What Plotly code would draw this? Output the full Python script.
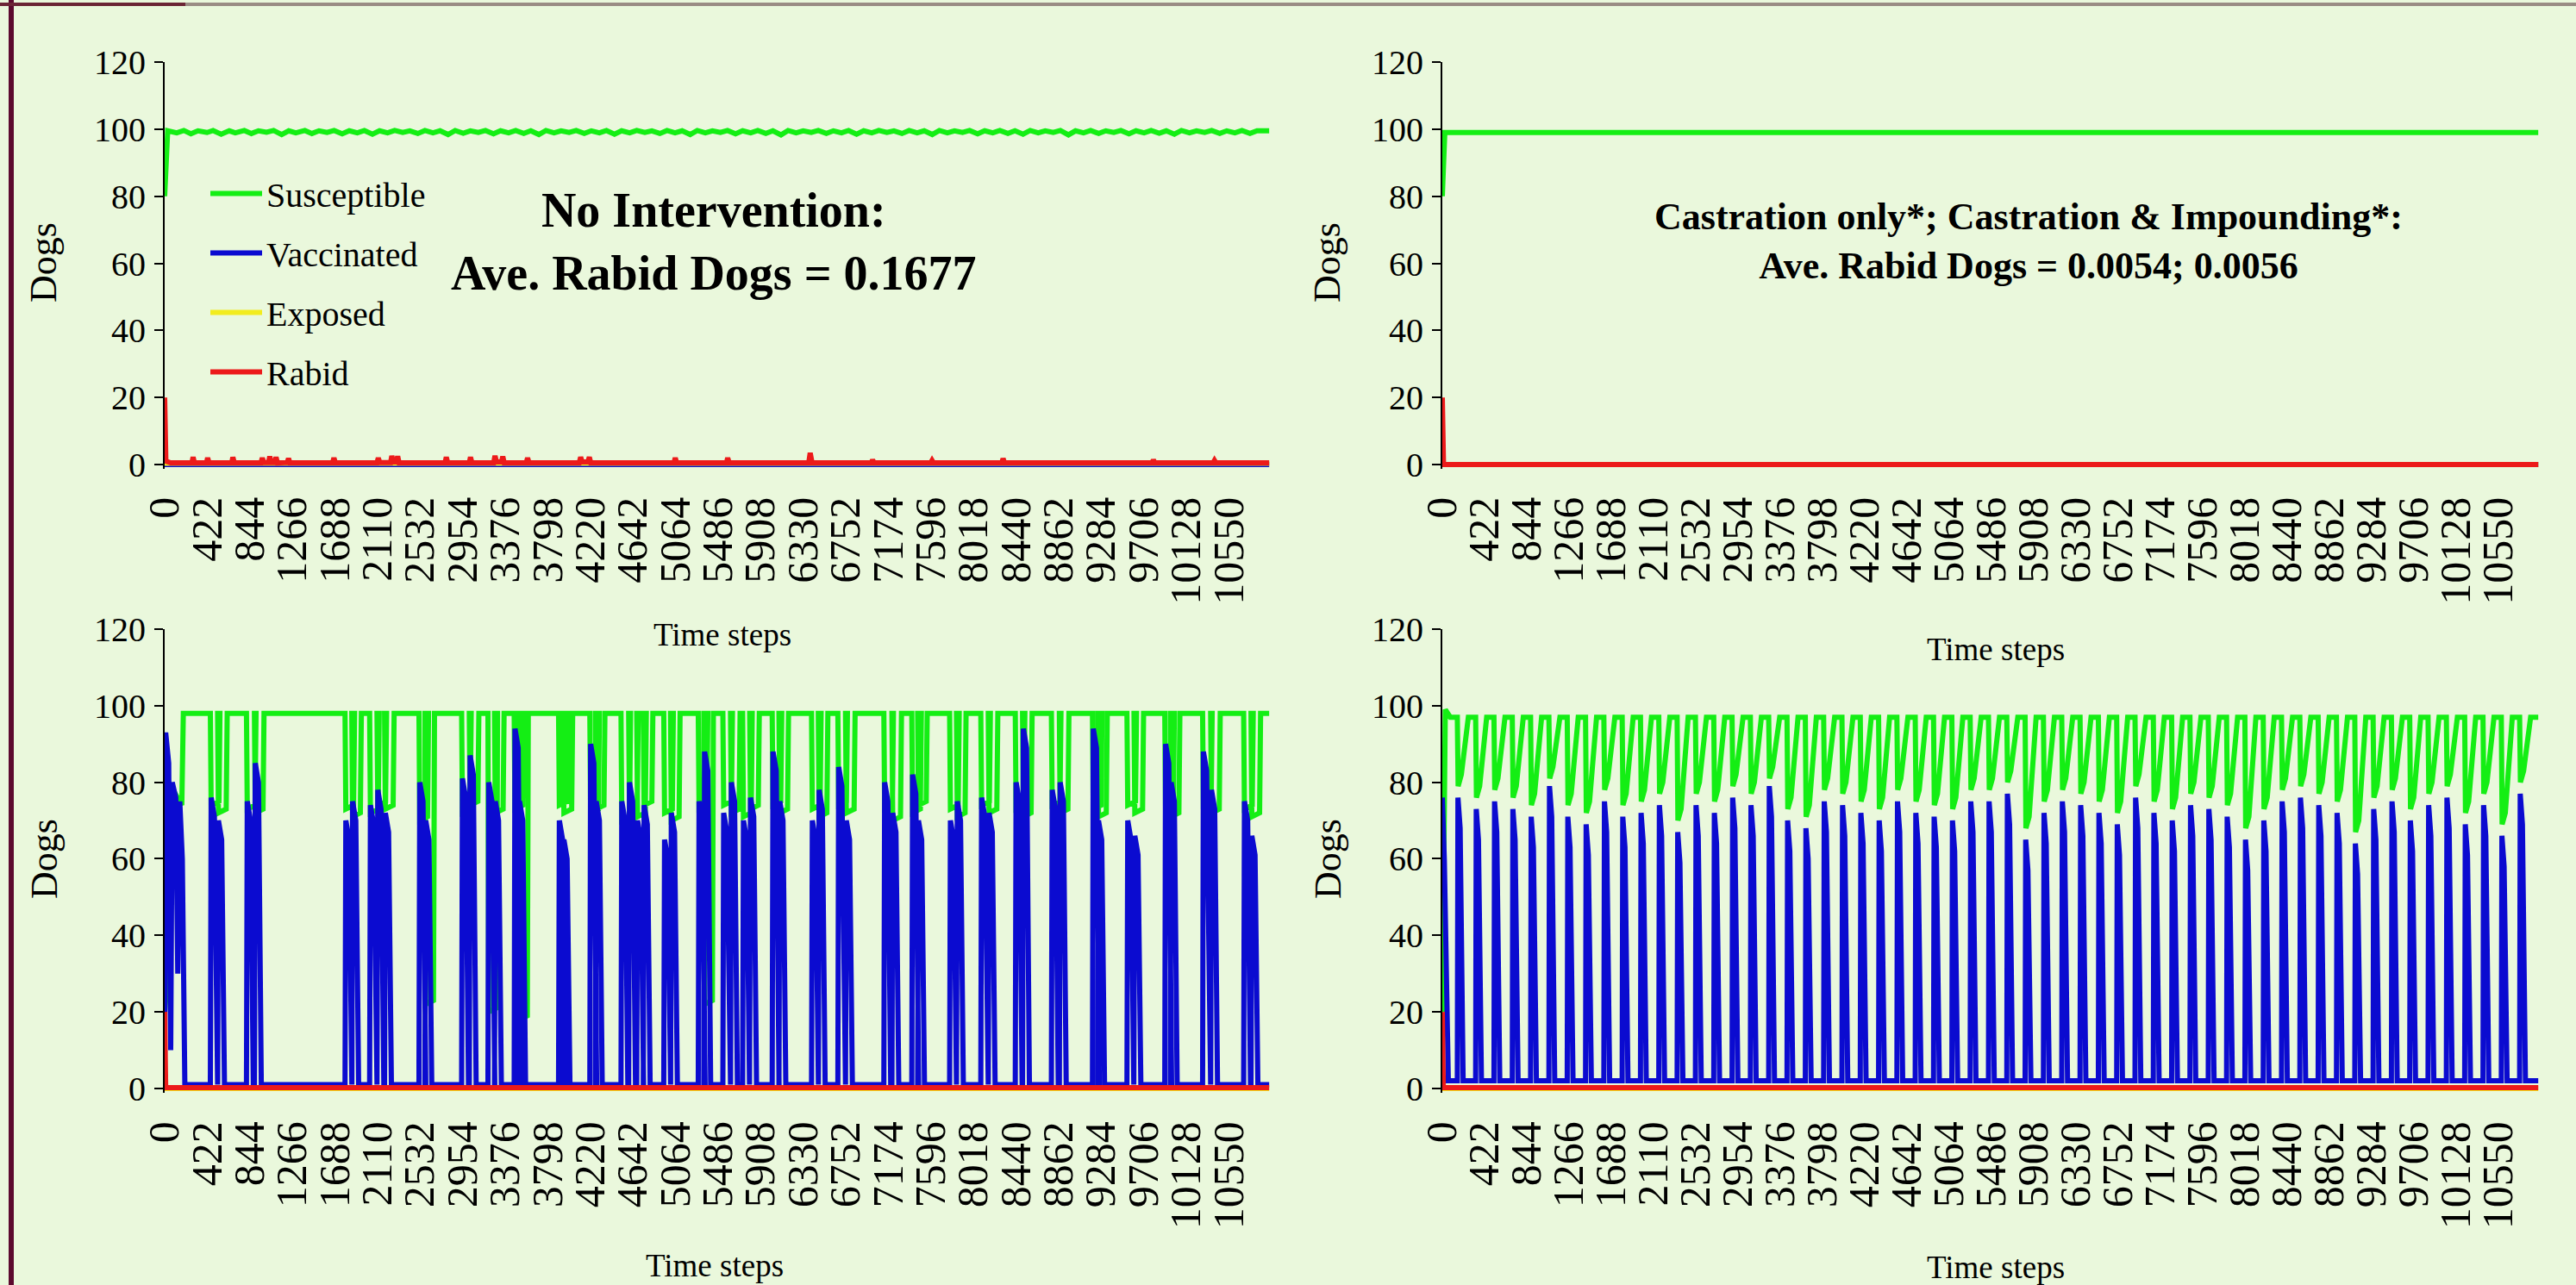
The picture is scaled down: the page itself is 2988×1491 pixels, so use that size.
import plotly.graph_objects as go

W, H = 2988, 1491
T_END = 10950
X_MAX = 11000

SERIES = ["Susceptible", "Vaccinated", "Exposed", "Rabid"]
COLORS = ["#14EE14", "#0B0BD0", "#F2EC1E", "#EC1A1A"]

X_TICKS = [0, 422, 844, 1266, 1688, 2110, 2532, 2954, 3376, 3798, 4220, 4642, 5064,
           5486, 5908, 6330, 6752, 7174, 7596, 8018, 8440, 8862, 9284, 9706, 10128, 10550]
Y_TICKS = [0, 20, 40, 60, 80, 100, 120]

# ---------------- Top-left: No intervention (time, dogs) ----------------
TL_S = [(0, 80), (30, 99.5), (120, 98.9), (190, 99.6), (260, 98.6), (330, 99.5), (420, 99.0),
        (480, 99.6), (560, 98.5), (640, 99.5), (700, 98.9), (790, 99.6), (860, 98.7), (930, 99.5),
        (1010, 99.1), (1080, 99.6), (1160, 98.4), (1230, 99.5), (1300, 98.9), (1390, 99.6),
        (1460, 98.7), (1530, 99.5), (1610, 99.0), (1680, 99.6), (1760, 98.6), (1830, 99.5),
        (1910, 98.9), (1980, 99.6), (2060, 98.5), (2130, 99.5), (2210, 98.9), (2280, 99.6),
        (2360, 99.0), (2430, 99.5), (2510, 98.7), (2580, 99.6), (2660, 98.9), (2730, 99.5),
        (2810, 98.4), (2880, 99.6), (2960, 98.8), (3030, 99.5), (3110, 99.0), (3180, 99.6),
        (3260, 98.6), (3330, 99.5), (3410, 98.9), (3480, 99.6), (3560, 98.7), (3630, 99.5),
        (3710, 98.4), (3780, 99.6), (3860, 98.9), (3930, 99.5), (4010, 99.0), (4080, 99.6),
        (4160, 98.7), (4230, 99.5), (4310, 98.9), (4380, 99.6), (4460, 98.5), (4530, 99.5),
        (4610, 98.9), (4680, 99.6), (4760, 99.0), (4830, 99.5), (4910, 98.7), (4980, 99.6),
        (5060, 98.9), (5130, 99.5), (5210, 98.4), (5280, 99.6), (5360, 98.9), (5430, 99.5),
        (5510, 99.0), (5580, 99.6), (5660, 98.6), (5730, 99.5), (5810, 98.9), (5880, 99.6),
        (5960, 98.7), (6030, 99.5), (6110, 98.3), (6180, 99.6), (6260, 98.9), (6330, 99.5),
        (6410, 99.0), (6480, 99.6), (6560, 98.7), (6630, 99.5), (6710, 98.9), (6780, 99.6),
        (6860, 98.5), (6930, 99.5), (7010, 98.9), (7080, 99.6), (7160, 99.0), (7230, 99.5),
        (7310, 98.7), (7380, 99.6), (7460, 98.9), (7530, 99.5), (7610, 98.4), (7680, 99.6),
        (7760, 98.9), (7830, 99.5), (7910, 99.0), (7980, 99.6), (8060, 98.6), (8130, 99.5),
        (8210, 98.9), (8280, 99.6), (8360, 98.7), (8430, 99.5), (8510, 98.5), (8580, 99.6),
        (8660, 98.9), (8730, 99.5), (8810, 99.0), (8880, 99.6), (8960, 98.3), (9030, 99.5),
        (9110, 98.9), (9180, 99.6), (9260, 98.7), (9330, 99.5), (9410, 99.0), (9480, 99.6),
        (9560, 98.6), (9630, 99.5), (9710, 98.9), (9780, 99.6), (9860, 98.8), (9930, 99.5),
        (10010, 98.5), (10080, 99.6), (10160, 98.9), (10230, 99.5), (10310, 99.0), (10380, 99.6),
        (10460, 98.7), (10530, 99.5), (10610, 98.9), (10680, 99.6), (10760, 98.7), (10830, 99.5),
        (10950, 99.5)]
TL_R = [(0, 20), (12, 1.0), (60, 0.5), (270, 0.5), (282, 2.2), (295, 0.5), (415, 0.5), (426, 2.0),
        (440, 0.5), (665, 0.5), (676, 2.2), (690, 0.5), (955, 0.5), (968, 2.0), (982, 0.6),
        (1030, 0.6), (1042, 2.4), (1056, 0.6), (1092, 0.6), (1104, 2.2), (1118, 0.5), (1215, 0.6),
        (1228, 1.8), (1242, 0.5), (1665, 0.5), (1678, 2.0), (1692, 0.5), (2105, 0.5), (2118, 2.0),
        (2132, 0.6), (2240, 0.6), (2252, 2.6), (2266, 0.8), (2298, 0.8), (2310, 2.5), (2324, 0.5),
        (2780, 0.5), (2792, 2.2), (2806, 0.5), (3020, 0.5), (3032, 2.2), (3046, 0.5), (3262, 0.5),
        (3275, 2.6), (3290, 0.8), (3340, 0.8), (3352, 2.4), (3366, 0.5), (3585, 0.5), (3598, 2.0),
        (3612, 0.5), (4110, 0.5), (4124, 2.2), (4138, 0.8), (4196, 0.8), (4210, 2.2), (4224, 0.5),
        (5050, 0.5), (5062, 2.0), (5076, 0.5), (5570, 0.5), (5582, 2.0), (5596, 0.5), (6385, 0.5),
        (6400, 3.5), (6418, 0.5), (7005, 0.5), (7018, 1.4), (7032, 0.5), (7595, 0.5), (7608, 1.2),
        (7622, 0.5), (8300, 0.5), (8312, 1.8), (8326, 0.5), (9790, 0.5), (9802, 1.4), (9816, 0.5),
        (10395, 0.5), (10408, 1.2), (10422, 0.5), (10950, 0.5)]
TL_V = [(0, 0), (T_END, 0)]
TL_E = [(0, 0.4), (T_END, 0.4)]

# ---------------- Top-right: castration only / castration & impounding ----------------
TR_S = [(0, 80), (25, 99), (T_END, 99)]
TR_V = [(0, 0), (T_END, 0)]
TR_E = [(0, 0), (T_END, 0)]
TR_R = [(0, 20), (12, 0), (T_END, 0)]

# ---------------- Bottom-right: regular vaccination pulses ----------------
BR_start = [150, 333, 516, 699, 882, 1065, 1248, 1431, 1614, 1797, 1980, 2163, 2346, 2529,
            2712, 2895, 3078, 3261, 3444, 3627, 3810, 3993, 4176, 4359, 4542, 4725, 4908,
            5091, 5274, 5457, 5640, 5823, 6006, 6189, 6372, 6555, 6738, 6921, 7104, 7287,
            7470, 7653, 7836, 8019, 8202, 8385, 8568, 8751, 8934, 9117, 9300, 9483, 9666,
            9849, 10032, 10215, 10398, 10581, 10764]
BR_V_peak = [76, 73, 75, 73, 71, 79, 71, 69, 75, 71, 72, 74, 67, 74, 72, 76, 74, 79, 70, 68,
             75, 74, 72, 70, 75, 72, 71, 70, 75, 75, 77, 65, 72, 75, 74, 72, 69, 76, 72, 70,
             74, 73, 71, 65, 70, 75, 76, 74, 72, 64, 73, 75, 70, 74, 76, 69, 74, 66, 77]
BR_S_low = [79, 76, 78, 76, 74, 81, 74, 72, 78, 74, 75, 77, 70, 77, 75, 79, 77, 81, 73, 71,
            78, 77, 75, 73, 78, 75, 74, 73, 78, 78, 80, 68, 75, 78, 77, 75, 72, 79, 75, 73,
            77, 76, 74, 68, 73, 78, 79, 77, 75, 67, 76, 78, 73, 77, 79, 72, 77, 69, 80]
BR_S_lead = [(0, 20), (30, 99), (80, 97)]
BR_V_lead = [(0, 76), (20, 60), (60, 2)]
BR_R = [(0, 20), (10, 0.2), (T_END, 0.2)]
BR_E = [(0, 0), (T_END, 0)]
# pulse outline: (steps after onset, offset from pulse level or None = baseline)
BR_V_SHAPE = [(0, None), (6, 0), (28, -8), (58, None)]
BR_S_SHAPE = [(0, None), (8, 0), (40, 3), (110, None)]

# ---------------- Bottom-left: irregular vaccination pulses ----------------
BL_start = [453, 525, 811, 890, 1788, 1855, 2032, 2105, 2180, 2521, 2580, 2944, 3020, 3205,
            3270, 3465, 3510, 3905, 3950, 4215, 4270, 4524, 4600, 4680, 4745, 4948, 5015,
            5290, 5345, 5534, 5610, 5730, 5800, 6023, 6090, 6413, 6480, 6674, 6750, 7130,
            7210, 7407, 7465, 7782, 7850, 8091, 8165, 8433, 8505, 8791, 8870, 9198, 9250,
            9540, 9610, 9915, 9970, 10290, 10370, 10697, 10770]
BL_V_peak = [76, 70, 75, 85, 70, 75, 74, 78, 72, 80, 70, 81, 87, 80, 75, 94, 75, 70, 65, 90,
             75, 75, 80, 70, 74, 65, 72, 75, 88, 72, 80, 70, 76, 88, 75, 70, 78, 84, 70, 80,
             72, 82, 70, 70, 75, 76, 72, 80, 94, 78, 80, 94, 70, 70, 66, 90, 80, 88, 78, 75, 66]
BL_S_low = [74, 72, 73, 72, 73, 71, 72, 74, 73, 70, 22, 72, 74, 20, 72, 73, 18, 74, 72, 72,
            73, 70, 73, 71, 74, 72, 70, 73, 22, 74, 72, 71, 73, 74, 72, 73, 71, 74, 72, 73,
            70, 72, 74, 73, 71, 74, 72, 73, 71, 74, 72, 73, 71, 74, 72, 73, 71, 74, 72, 73, 71]
BL_S_lead = [(0, 20), (25, 28), (40, 80), (170, 74), (185, 98)]
BL_V_lead = [(0, 5), (10, 93), (40, 85), (60, 10), (75, 80), (110, 76), (130, 30), (150, 75),
             (175, 60), (200, 1)]
BL_R = [(0, 20), (10, 0.2), (T_END, 0.2)]
BL_E = [(0, 0), (T_END, 0)]
BL_V_SHAPE = [(0, None), (8, 0), (40, -5), (68, None)]
BL_S_SHAPE = [(0, None), (8, 0), (85, 1), (95, None)]


def pts(pairs):
    return [p[0] for p in pairs], [p[1] for p in pairs]


def pulses(lead, starts, levels, base, shape):
    """Polyline through the read pulse events (onset time, level) on a baseline."""
    t, y = pts(lead)
    for s, v in zip(starts, levels):
        for off, d in shape:
            t.append(s + off)
            y.append(base if d is None else v + d)
    t.append(T_END)
    y.append(base)
    return t, y


PANELS = [
    ("x", "y", [pts(TL_S), pts(TL_V), pts(TL_E), pts(TL_R)], True),
    ("x2", "y2", [pts(TR_S), pts(TR_V), pts(TR_E), pts(TR_R)], False),
    ("x3", "y3", [pulses(BL_S_lead, BL_start, BL_S_low, 98, BL_S_SHAPE),
                  pulses(BL_V_lead, BL_start, BL_V_peak, 1, BL_V_SHAPE),
                  pts(BL_E), pts(BL_R)], False),
    ("x4", "y4", [pulses(BR_S_lead, BR_start, BR_S_low, 97, BR_S_SHAPE),
                  pulses(BR_V_lead, BR_start, BR_V_peak, 2, BR_V_SHAPE),
                  pts(BR_E), pts(BR_R)], False),
]

FONT = "Liberation Serif, Times New Roman, serif"
BG = "#EAF8DC"

fig = go.Figure()
for xa, ya, series, show in PANELS:
    for (t, v), name, col in zip(series, SERIES, COLORS):
        fig.add_trace(go.Scatter(
            x=t, y=v, mode="lines", name=name, xaxis=xa, yaxis=ya,
            line=dict(color=col, width=6), showlegend=show, legendgroup=name,
            hoverinfo="skip"))

xdom_l = [191 / W, 1478 / W]
xdom_r = [1673 / W, 2950 / W]
ydom_t = [1 - 543.7 / H, 1 - 72 / H]
ydom_b = [1 - 1268.3 / H, 1 - 730 / H]

xcommon = dict(range=[0, X_MAX], tickmode="array", tickvals=X_TICKS,
               ticktext=[str(v) for v in X_TICKS], tickangle=-90, showline=False,
               showgrid=False, zeroline=False, ticks="", ticklabelstandoff=22, automargin=False,
               tickfont=dict(family=FONT, size=50, color="black"))
ycommon = dict(range=[-1.2, 120], tickmode="array", tickvals=Y_TICKS, showline=True,
               linecolor="black", linewidth=2, ticks="outside", ticklen=10, tickwidth=2,
               tickcolor="black", showgrid=False, zeroline=False, ticklabelstandoff=2,
               automargin=False, tickfont=dict(family=FONT, size=40, color="black"))

fig.update_layout(
    width=W, height=H, autosize=False,
    margin=dict(l=0, r=0, t=0, b=0, pad=0, autoexpand=False),
    paper_bgcolor=BG, plot_bgcolor=BG,
    xaxis=dict(domain=xdom_l, anchor="y", **xcommon),
    yaxis=dict(domain=ydom_t, anchor="x", **ycommon),
    xaxis2=dict(domain=xdom_r, anchor="y2", **xcommon),
    yaxis2=dict(domain=ydom_t, anchor="x2", **ycommon),
    xaxis3=dict(domain=xdom_l, anchor="y3", **xcommon),
    yaxis3=dict(domain=ydom_b, anchor="x3", **ycommon),
    xaxis4=dict(domain=xdom_r, anchor="y4", **xcommon),
    yaxis4=dict(domain=ydom_b, anchor="x4", **ycommon),
    legend=dict(x=239 / W, y=1 - 192 / H, xanchor="left", yanchor="top",
                bgcolor="rgba(0,0,0,0)", font=dict(family=FONT, size=40, color="black"),
                tracegroupgap=14, itemwidth=60, traceorder="grouped"),
    showlegend=True,
)

ann = []
for xp in (51 / W, 1540 / W):
    for yp in (1 - 305 / H, 1 - 997 / H):
        ann.append(dict(x=xp, y=yp, xref="paper", yref="paper", text="Dogs", showarrow=False,
                        textangle=-90, xanchor="center", yanchor="middle",
                        font=dict(family=FONT, size=44, color="black")))
for xp, yp in ((838 / W, 1 - 736 / H), (2315 / W, 1 - 753 / H),
               (829 / W, 1 - 1468 / H), (2315 / W, 1 - 1470 / H)):
    ann.append(dict(x=xp, y=yp, xref="paper", yref="paper", text="Time steps",
                    showarrow=False, xanchor="center", yanchor="middle",
                    font=dict(family=FONT, size=37, color="black")))
ann.append(dict(x=828 / W, y=1 - 280 / H, xref="paper", yref="paper", showarrow=False,
                xanchor="center", yanchor="middle",
                text="<b>No Intervention:</b><br><b>Ave. Rabid Dogs = 0.1677</b>",
                font=dict(family=FONT, size=56, color="black"), align="center"))
ann.append(dict(x=2353 / W, y=1 - 280 / H, xref="paper", yref="paper", showarrow=False,
                xanchor="center", yanchor="middle",
                text="<b>Castration only*; Castration &amp; Impounding*:</b><br>"
                     "<b>Ave. Rabid Dogs = 0.0054; 0.0056</b>",
                font=dict(family=FONT, size=44, color="black"), align="center"))
fig.update_layout(annotations=ann)

fig.update_layout(shapes=[
    dict(type="rect", xref="paper", yref="paper", x0=10 / W, x1=16 / W, y0=0, y1=1,
         fillcolor="#5C0A2E", line=dict(width=0), layer="above"),
    dict(type="rect", xref="paper", yref="paper", x0=0, x1=1, y0=1 - 7 / H, y1=1 - 3 / H,
         fillcolor="#9A8C84", line=dict(width=0), layer="above"),
    dict(type="rect", xref="paper", yref="paper", x0=0, x1=215 / W, y0=1 - 7 / H, y1=1 - 3 / H,
         fillcolor="#6B2535", line=dict(width=0), layer="above"),
])

fig.write_html("out.html", config={"displayModeBar": False},
               post_script="document.body.style.margin='0';"
                           "document.body.style.overflow='hidden';")
